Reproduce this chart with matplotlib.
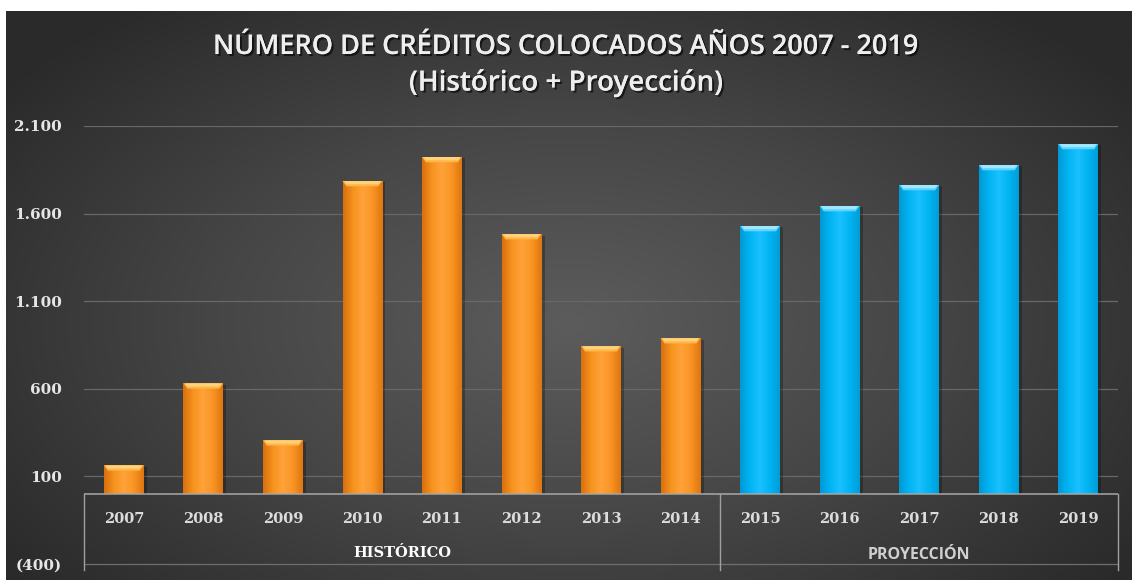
import numpy as np
import matplotlib
matplotlib.use("Agg")
import matplotlib.pyplot as plt
import matplotlib.patheffects as pe
from matplotlib.colors import LinearSegmentedColormap

# ---------------- data ----------------
years = ["2007", "2008", "2009", "2010", "2011", "2012", "2013",
         "2014", "2015", "2016", "2017", "2018", "2019"]
historico = [163, 631, 306, 1786, 1923, 1483, 843, 889]
proyeccion = [1529, 1643, 1763, 1877, 1997]
groups = ["HISTÓRICO", "PROYECCIÓN"]
yticks = [-400, 100, 600, 1100, 1600, 2100]
title1 = "NÚMERO DE CRÉDITOS COLOCADOS AÑOS 2007 - 2019"
title2 = "(Histórico + Proyección)"

W, H = 1132, 580
fig = plt.figure(figsize=(W / 100, H / 100), dpi=100)
fig.patch.set_facecolor("white")

# ---------------- background (radial gradient) ----------------
bg_l, bg_b, bg_t = 6 / W, 0.0, 1 - 11 / H
bg = fig.add_axes([bg_l, bg_b, 1 - bg_l, bg_t - bg_b])
bg.set_axis_off()
nx, ny = 600, 300
xx, yy = np.meshgrid(np.linspace(-1, 1, nx), np.linspace(-1, 1, ny))
r = np.sqrt((xx / 1.0) ** 2 + ((yy + 0.1) / 1.15) ** 2)
r = np.clip(r / 1.25, 0, 1)
bgcm = LinearSegmentedColormap.from_list("bg", ["#5c5c5c", "#464646", "#2a2a2a"])
bg.imshow(r, cmap=bgcm, aspect="auto", extent=[0, 1, 0, 1], origin="lower",
          vmin=0, vmax=1)
bg.set_xlim(0, 1)
bg.set_ylim(0, 1)

# ---------------- main axes ----------------
left, right = 84 / W, 1118 / W
top, bottom = 1 - 126 / H, 1 - 564 / H
ax = fig.add_axes([left, bottom, right - left, top - bottom])
ax.patch.set_alpha(0)
for s in ax.spines.values():
    s.set_visible(False)

ax.set_xlim(-0.5, len(years) - 0.5)
ax.set_ylim(yticks[0], yticks[-1])

# gridlines
for v in yticks[1:]:
    ax.axhline(v, color="#686868", lw=0.9, zorder=1)
ax.axhline(yticks[0], color="#6e6e6e", lw=0.9, zorder=1, clip_on=False)

x_hist = np.arange(len(historico))
x_proy = np.arange(len(historico), len(historico) + len(proyeccion))

bw = 0.5
bars_h = ax.bar(x_hist, historico, width=bw, color="#f28c1c", zorder=3)
bars_p = ax.bar(x_proy, proyeccion, width=bw, color="#00b2f0", zorder=3)

orange_cm = LinearSegmentedColormap.from_list(
    "o", ["#d9700e", "#f7931e", "#ffa23a", "#f99524", "#e0760f"])
blue_cm = LinearSegmentedColormap.from_list(
    "b", ["#0099d6", "#00b4f2", "#1cc0ff", "#00b4f2", "#009ed9"])
grad = np.linspace(0, 1, 64).reshape(1, -1)


def shade(bars, cm, topcol, topcol2):
    for b in bars:
        x0, w, h = b.get_x(), b.get_width(), b.get_height()
        # shadow
        ax.bar(x0 + w / 2 + 0.04, h, width=w, bottom=-8, color="black",
               alpha=0.25, zorder=2)
        im = ax.imshow(grad, cmap=cm, aspect="auto",
                       extent=[x0, x0 + w, 0, h], zorder=4)
        im.set_clip_path(b)
        # bevelled top edge
        cap = 30
        ax.fill([x0, x0 + w, x0 + w - 0.05, x0 + 0.05],
                [h, h, h - cap, h - cap], color=topcol2, zorder=5, lw=0)
        ax.fill([x0 + 0.02, x0 + w - 0.02, x0 + w - 0.05, x0 + 0.05],
                [h, h, h - cap * 0.6, h - cap * 0.6], color=topcol, zorder=5,
                lw=0)


shade(bars_h, orange_cm, "#ffd27a", "#ffb74a")
shade(bars_p, blue_cm, "#9fe8ff", "#5fd4ff")

# axis line at zero
ax.axhline(0, color="#a8a8a8", lw=1.1, zorder=6)

# table vertical separators
for xv in [-0.5, len(historico) - 0.5, len(years) - 0.5]:
    ax.plot([xv, xv], [0, -435], color="#a0a0a0", lw=1.0, clip_on=False,
            zorder=6)

# y ticks
def fmt(v):
    s = "{:,.0f}".format(abs(v)).replace(",", ".")
    return "(" + s + ")" if v < 0 else s


ax.set_yticks(yticks)
ax.set_yticklabels([fmt(v) for v in yticks])
ax.tick_params(axis="y", length=0, pad=16, labelcolor="#e6e6e6")
for lab in ax.get_yticklabels():
    lab.set_fontfamily("DejaVu Serif")
    lab.set_fontweight("bold")
    lab.set_fontsize(11)
ax.set_xticks([])

# year labels
for i, y in enumerate(years):
    ax.text(i, -146, y, ha="center", va="center", color="#dcdcdc",
            fontsize=10.5, fontweight="bold", family="DejaVu Serif", zorder=7)

# group labels
ax.text((len(historico) - 1) / 2, -336, groups[0], ha="center",
        va="center", color="white", fontsize=10.5, fontweight="bold",
        family="DejaVu Serif", zorder=7)
ax.text(len(historico) + (len(proyeccion) - 1) / 2, -348, groups[1],
        ha="center", va="center", color="#d0d0d0", fontsize=11.5,
        fontweight="bold", family="Open Sans", zorder=7)

# title
shadow = [pe.withSimplePatchShadow(offset=(1.5, -1.5), shadow_rgbFace="black",
                                   alpha=0.6), pe.Normal()]
fig.text(0.5, 1 - 47 / H, title1, ha="center", va="center", color="#eeeeee",
         fontsize=19.5, fontweight="semibold", family="Open Sans",
         path_effects=shadow)
fig.text(0.5, 1 - 83 / H, title2, ha="center", va="center", color="#eeeeee",
         fontsize=20, fontweight="semibold", family="Open Sans",
         path_effects=shadow)

fig.savefig("out.png", dpi=100, facecolor=fig.get_facecolor())
